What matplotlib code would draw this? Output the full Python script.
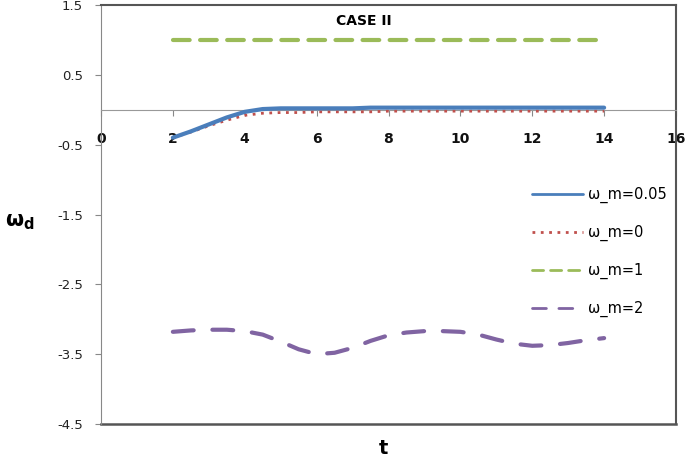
import matplotlib.pyplot as plt
import numpy as np

# values
t = [2, 2.5, 3, 3.5, 4, 4.5, 5, 5.5, 6, 6.5, 7, 7.5, 8, 8.5, 9, 9.5, 10,
     10.5, 11, 11.5, 12, 12.5, 13, 13.5, 14]
w_005 = [-0.40, -0.31, -0.21, -0.11, -0.03, 0.01, 0.02, 0.02, 0.02, 0.02,
         0.02, 0.03, 0.03, 0.03, 0.03, 0.03, 0.03, 0.03, 0.03, 0.03, 0.03,
         0.03, 0.03, 0.03, 0.03]
w_0 = [-0.40, -0.32, -0.23, -0.15, -0.08, -0.05, -0.04, -0.04, -0.03, -0.03,
       -0.03, -0.03, -0.02, -0.02, -0.02, -0.02, -0.02, -0.02, -0.02, -0.02,
       -0.02, -0.02, -0.02, -0.02, -0.02]
w_1 = [1.0] * len(t)
w_2 = [-3.18, -3.16, -3.15, -3.15, -3.17, -3.22, -3.32, -3.43, -3.50, -3.48,
       -3.41, -3.31, -3.23, -3.19, -3.17, -3.17, -3.18, -3.22, -3.29, -3.35,
       -3.38, -3.37, -3.34, -3.30, -3.27]

yticks = [-4.5, -3.5, -2.5, -1.5, -0.5, 0.5, 1.5]
xticks = [0, 2, 4, 6, 8, 10, 12, 14, 16]

fig = plt.figure(figsize=(6.85, 4.58), dpi=100)
ax = fig.add_axes([101/685, 34/458, 575/685, 419/458])

l1, = ax.plot(t, w_005, color='#4A7EBB', lw=3, solid_capstyle='round', label='ω_m=0.05', zorder=4)
l2, = ax.plot(t, w_0, color='#C0504D', lw=2, ls=(0, (1, 2)), label='ω_m=0', zorder=3)
l3, = ax.plot(t, w_1, color='#9BBB59', lw=3, ls=(0, (4, 2.5)), dash_capstyle='round', label='ω_m=1')
l4, = ax.plot(t, w_2, color='#8064A2', lw=3, ls=(0, (5, 4.5)), dash_capstyle='round', label='ω_m=2')

ax.set_xlim(0, 16)
ax.set_ylim(-4.5, 1.5)
ax.set_xticks(xticks)
ax.set_yticks(yticks)
ax.set_yticklabels(['{:g}'.format(v) for v in yticks])

# frame
for s in ['top', 'right']:
    ax.spines[s].set_color('#555555')
    ax.spines[s].set_linewidth(1.5)
ax.spines['left'].set_color('#888888')
ax.spines['bottom'].set_position(('data', 0))
ax.spines['bottom'].set_color('#999999')
ax.plot([0, 1], [0, 0], transform=ax.transAxes, color='#555555', lw=1.8, clip_on=False)

ax.tick_params(axis='x', direction='out', length=4, color='#888888', pad=12,
               labelsize=10, labelcolor='#111111')
ax.tick_params(axis='y', direction='out', length=4, color='#888888', pad=9,
               labelsize=9.5, labelcolor='#222222')
for lab in ax.get_xticklabels():
    lab.set_fontweight('bold')

ax.text(0.457, 0.962, 'CASE II', transform=ax.transAxes, ha='center', va='center',
        fontsize=10, fontweight='bold')
fig.text(20/685, 1 - 222/458, r'$\mathbf{\omega_d}$', ha='center', va='center', fontsize=15)
fig.text(383/685, 1 - 449/458, 't', ha='center', va='center', fontsize=14, fontweight='bold')

leg = ax.legend(handles=[l1, l2, l3, l4], loc='center left', bbox_to_anchor=(532/685, 1 - 252/458),
                bbox_transform=fig.transFigure, frameon=False, fontsize=10.5, handlelength=3.5,
                handletextpad=0.35, labelspacing=1.5, borderpad=0, borderaxespad=0)
for ln in leg.get_lines():
    ln.set_linewidth(2)

fig.savefig('out.png', dpi=100)
